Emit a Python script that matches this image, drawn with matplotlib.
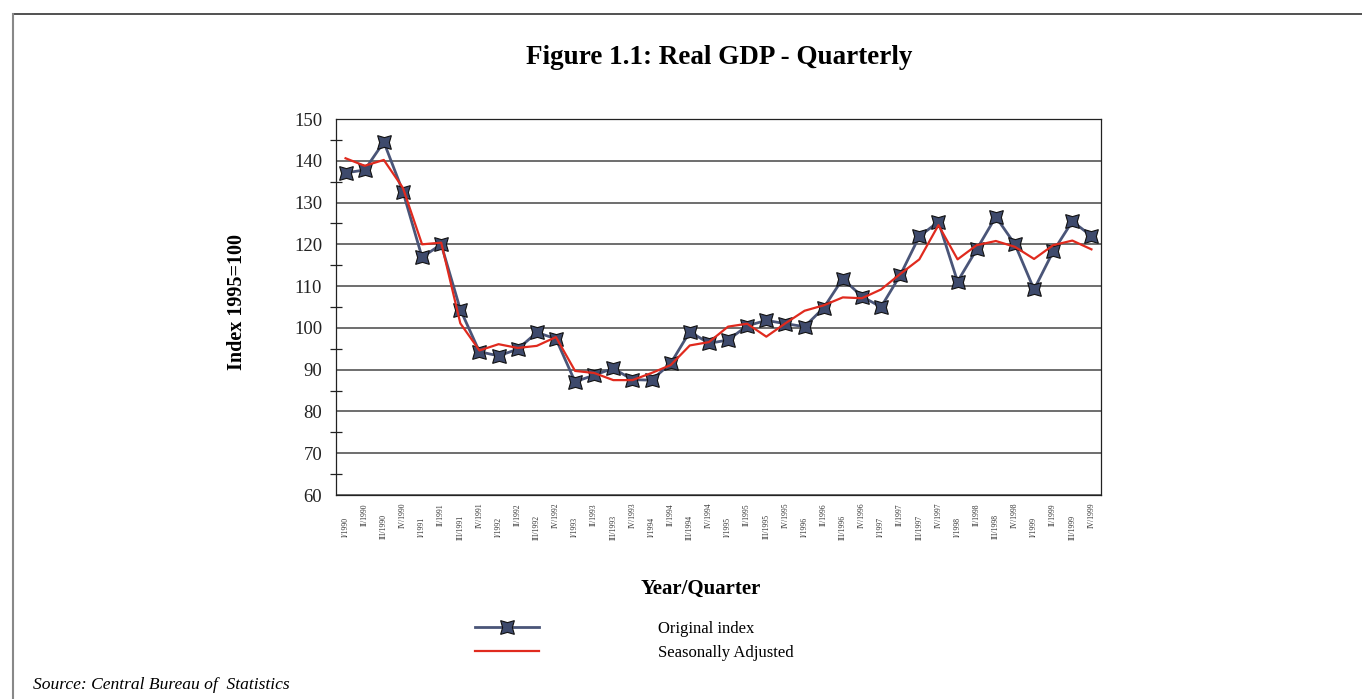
import matplotlib.pyplot as plt
from matplotlib.lines import Line2D
from matplotlib.ticker import MultipleLocator, FixedLocator

plt.rcParams['font.family'] = ['Liberation Serif', 'DejaVu Serif']

# quarterly GDP index, 1995=100
quarters = ['I', 'II', 'III', 'IV']
years = list(range(1990, 2000))
labels = [f'{q}/{y}' for y in years for q in quarters]

original_index = [137.1, 137.8, 144.5, 132.6, 116.9, 120.0, 104.4, 94.3, 93.3, 94.9,
                  98.9, 97.4, 87.1, 88.7, 90.3, 87.6, 87.5, 91.5, 99.1, 96.3,
                  97.1, 100.5, 101.8, 101.0, 100.3, 104.8, 111.8, 107.5, 105.0, 112.6,
                  121.9, 125.4, 111.1, 118.8, 126.6, 120.0, 109.2, 118.3, 125.5, 122.0]
seasonally_adjusted = [140.6, 138.8, 140.2, 133.5, 120.0, 120.4, 101.1, 94.6, 96.1, 95.2,
                       95.7, 97.8, 89.7, 89.2, 87.5, 87.5, 89.2, 91.1, 95.8, 96.6,
                       100.3, 101.0, 97.9, 101.1, 104.1, 105.4, 107.3, 107.1, 109.2, 112.9,
                       116.4, 124.6, 116.4, 119.8, 120.8, 119.4, 116.5, 119.8, 120.9, 118.8]

x = list(range(len(labels)))

fig = plt.figure(figsize=(13.62, 6.99), dpi=100)
ax = fig.add_axes([336 / 1362, 1 - 495 / 699, (1101 - 336) / 1362, (495 - 119) / 699])

ax.plot(x, original_index, color='#4a5578', lw=2.0, marker=(4, 1, 45), markersize=14,
        markerfacecolor='#3e4a6c', markeredgecolor='#111111', markeredgewidth=0.8,
        label='Original index', zorder=3)
ax.plot(x, seasonally_adjusted, color='#e02a1e', lw=1.6, label='Seasonally Adjusted', zorder=4)

ax.set_xlim(-0.5, len(labels) - 0.5)
ax.set_ylim(60, 150)
ax.yaxis.set_major_locator(MultipleLocator(10))
ax.yaxis.set_minor_locator(MultipleLocator(5))
ax.grid(axis='y', which='major', color='#555555', lw=1.2)
ax.set_axisbelow(True)
for s in ax.spines.values():
    s.set_color('#222222')
    s.set_linewidth(0.9)

ax.tick_params(axis='y', which='major', length=0, pad=10, labelsize=13.5, labelcolor='#222222')
ax.tick_params(axis='y', which='minor', direction='inout', length=9, width=0.9, color='#222222')

# staggered quarter labels: even ones lower, odd ones higher
ax.xaxis.set_major_locator(FixedLocator(x[::2]))
ax.xaxis.set_minor_locator(FixedLocator(x[1::2]))
ax.set_xticklabels(labels[::2])
ax.set_xticklabels(labels[1::2], minor=True)
ax.tick_params(axis='x', which='major', length=0, pad=23, labelsize=5.5, labelrotation=90, labelcolor='#333333')
ax.tick_params(axis='x', which='minor', length=0, pad=14.5, labelsize=5.5, labelrotation=90, labelcolor='#333333')
for lab in ax.get_xticklabels() + ax.get_xticklabels(minor=True):
    lab.set_va('center')

fig.text(719 / 1362, 1 - 58 / 699, 'Figure 1.1: Real GDP - Quarterly', ha='center', va='center',
         fontsize=19.5, fontweight='bold')
fig.text(237 / 1362, 1 - 302 / 699, 'Index 1995=100', ha='center', va='center', rotation=90,
         fontsize=14.5, fontweight='bold')
fig.text(701 / 1362, 1 - 589 / 699, 'Year/Quarter', ha='center', va='center',
         fontsize=15, fontweight='bold')
fig.text(33 / 1362, 1 - 685 / 699, 'Source: Central Bureau of  Statistics', ha='left', va='center',
         fontsize=12.6, style='italic')

fig.legend(loc='upper left', bbox_to_anchor=(460 / 1362, 1 - 606 / 699), frameon=False,
           fontsize=12, handlelength=3.85, handletextpad=7.1, labelspacing=0.5)

# page frame
fig.add_artist(Line2D([13 / 1362, 1.0], [1 - 14 / 699, 1 - 14 / 699], color='#333333', lw=1.2,
                      transform=fig.transFigure))
fig.add_artist(Line2D([13 / 1362, 13 / 1362], [0, 1 - 14 / 699], color='#888888', lw=1.5,
                      transform=fig.transFigure))

fig.savefig('out.png', dpi=100)
